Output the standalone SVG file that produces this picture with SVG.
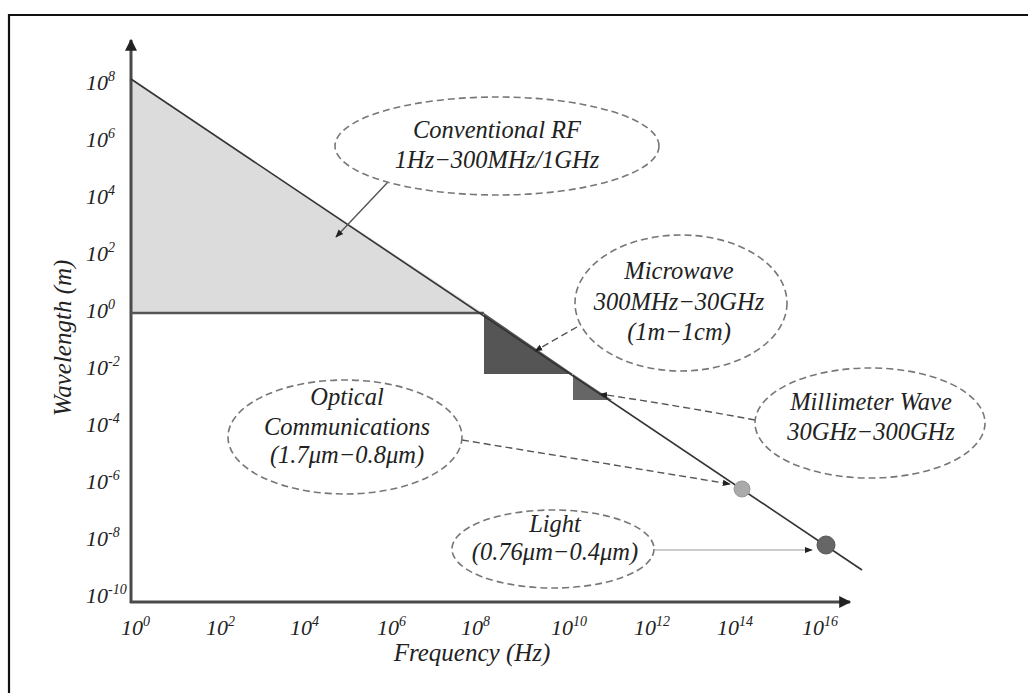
<svg xmlns="http://www.w3.org/2000/svg" width="1028" height="693" viewBox="0 0 1028 693">
<style>
text{font-family:"Liberation Serif","Times New Roman",serif;font-style:italic;fill:#222}
.tick{font-size:22px}
.sup{font-size:14px}
.lbl{font-size:24.5px;text-anchor:middle}
.title{font-size:25px;text-anchor:middle}
.oval{fill:none;stroke:#777;stroke-width:1.6;stroke-dasharray:7 4}
.axis{stroke:#4a4a4a;stroke-width:3;fill:none}
.conn{fill:none;stroke:#555;stroke-width:1.4}
.dash{stroke-dasharray:7 4}
</style>
<defs>
<marker id="ah" viewBox="0 0 10 10" refX="9" refY="5" markerWidth="8" markerHeight="8" orient="auto" markerUnits="userSpaceOnUse">
<path d="M0,1 L10,5 L0,9 Z" fill="#222"/>
</marker>
<marker id="axh" viewBox="0 0 10 10" refX="9" refY="5" markerWidth="14" markerHeight="12" orient="auto" markerUnits="userSpaceOnUse">
<path d="M0,0 L10,5 L0,10 Z" fill="#222"/>
</marker>
</defs>
<rect width="1028" height="693" fill="#fff"/>
<path d="M9,693 V15 H1028" fill="none" stroke="#111" stroke-width="2.2"/>

<g id="regions">
<polygon points="131,79 483,313 131,313" fill="#dcdcdc"/>
<polygon points="484,313 573,374 484,374" fill="#555"/>
<polygon points="573,374 612,400 573,400" fill="#666"/>
</g>

<g id="axes">
<line x1="131" y1="603" x2="131" y2="40" class="axis" marker-end="url(#axh)"/>
<line x1="130" y1="602" x2="850" y2="602" class="axis" marker-end="url(#axh)"/>
<line x1="131" y1="313" x2="484" y2="313" stroke="#555" stroke-width="2.5"/>
<line x1="131" y1="79" x2="862" y2="570" stroke="#333" stroke-width="1.6"/>
</g>

<g id="yticks">
<text x="86" y="90" class="tick">10<tspan dy="-9" class="sup">8</tspan></text>
<text x="86" y="147" class="tick">10<tspan dy="-9" class="sup">6</tspan></text>
<text x="86" y="204" class="tick">10<tspan dy="-9" class="sup">4</tspan></text>
<text x="86" y="261" class="tick">10<tspan dy="-9" class="sup">2</tspan></text>
<text x="86" y="318" class="tick">10<tspan dy="-9" class="sup">0</tspan></text>
<text x="86" y="375" class="tick">10<tspan dy="-9" class="sup">-2</tspan></text>
<text x="86" y="432" class="tick">10<tspan dy="-9" class="sup">-4</tspan></text>
<text x="86" y="489" class="tick">10<tspan dy="-9" class="sup">-6</tspan></text>
<text x="86" y="546" class="tick">10<tspan dy="-9" class="sup">-8</tspan></text>
<text x="86" y="603" class="tick">10<tspan dy="-9" class="sup">-10</tspan></text>
</g>

<g id="xticks">
<text x="121" y="635" class="tick">10<tspan dy="-9" class="sup">0</tspan></text>
<text x="206" y="635" class="tick">10<tspan dy="-9" class="sup">2</tspan></text>
<text x="290" y="635" class="tick">10<tspan dy="-9" class="sup">4</tspan></text>
<text x="377" y="635" class="tick">10<tspan dy="-9" class="sup">6</tspan></text>
<text x="461" y="635" class="tick">10<tspan dy="-9" class="sup">8</tspan></text>
<text x="551" y="635" class="tick">10<tspan dy="-9" class="sup">10</tspan></text>
<text x="634" y="635" class="tick">10<tspan dy="-9" class="sup">12</tspan></text>
<text x="717" y="635" class="tick">10<tspan dy="-9" class="sup">14</tspan></text>
<text x="802" y="635" class="tick">10<tspan dy="-9" class="sup">16</tspan></text>
</g>

<text x="472" y="661" class="title">Frequency (Hz)</text>
<text x="0" y="0" class="title" transform="translate(71,338) rotate(-90)">Wavelength (m)</text>

<g id="connectors">
<line x1="388" y1="182" x2="336" y2="237" class="conn" marker-end="url(#ah)"/>
<line x1="577" y1="327" x2="535" y2="351" class="conn dash" marker-end="url(#ah)"/>
<path d="M755,420 Q680,406 600,394" class="conn dash" marker-end="url(#ah)"/>
<path d="M462,440 L730,484" class="conn dash" marker-end="url(#ah)"/>
<line x1="655" y1="550" x2="812" y2="550" stroke="#bbb" stroke-width="1.4" marker-end="url(#ah)"/>
</g>

<g id="dots">
<circle cx="742" cy="489" r="8" fill="#aaa" stroke="#999"/>
<circle cx="826" cy="545" r="9" fill="#666" stroke="#555"/>
</g>

<g id="node-rf">
<ellipse cx="497" cy="146" rx="162" ry="49" class="oval"/>
<text x="497" y="138" class="lbl">Conventional RF</text>
<text x="497" y="168" class="lbl">1Hz−300MHz/1GHz</text>
</g>

<g id="node-microwave">
<ellipse cx="681" cy="303" rx="106" ry="68" class="oval"/>
<text x="679" y="279" class="lbl">Microwave</text>
<text x="679" y="310" class="lbl">300MHz−30GHz</text>
<text x="679" y="340" class="lbl">(1m−1cm)</text>
</g>

<g id="node-mmwave">
<ellipse cx="870" cy="423" rx="115" ry="55" class="oval"/>
<text x="871" y="410" class="lbl">Millimeter Wave</text>
<text x="871" y="440" class="lbl">30GHz−300GHz</text>
</g>

<g id="node-optical">
<ellipse cx="345" cy="437" rx="117" ry="57" class="oval"/>
<text x="347" y="405" class="lbl">Optical</text>
<text x="347" y="435" class="lbl">Communications</text>
<text x="347" y="463" class="lbl">(1.7μm−0.8μm)</text>
</g>

<g id="node-light">
<ellipse cx="553" cy="549" rx="101" ry="39" class="oval"/>
<text x="555" y="532" class="lbl">Light</text>
<text x="555" y="560" class="lbl">(0.76μm−0.4μm)</text>
</g>
</svg>
